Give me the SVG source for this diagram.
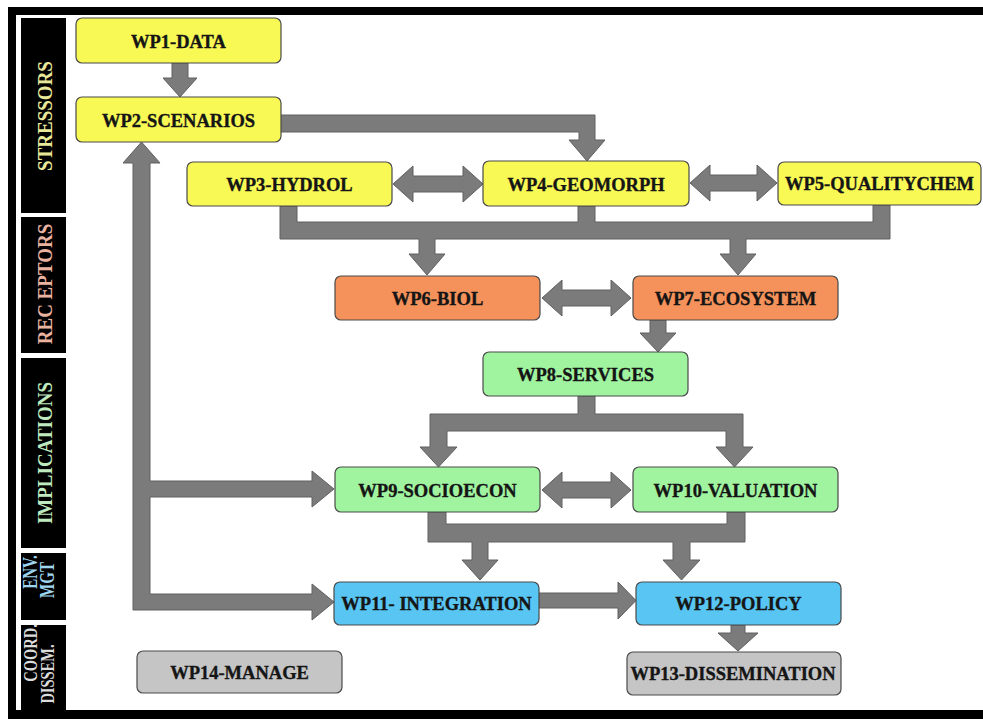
<svg xmlns="http://www.w3.org/2000/svg" width="983" height="719" viewBox="0 0 983 719">
  <style>
    .box { stroke: #4a4a4a; stroke-width: 1.2; }
    .yellow { fill: #f9f955; }
    .orange { fill: #f5915a; }
    .green { fill: #a0f4a0; }
    .blue { fill: #58c5f3; }
    .grey { fill: #c5c5c5; }
    .label { font-family: "Liberation Serif", "Times New Roman", serif; font-weight: bold; font-size: 18.5px; fill: #151515; stroke: #151515; stroke-width: 0.35; text-anchor: middle; }
    .band { fill: #000; }
    .side { font-family: "Liberation Serif", "Times New Roman", serif; font-weight: bold; text-anchor: middle; }
    .arrow { fill: #7b7b7b; stroke: #606060; stroke-width: 1; stroke-linejoin: miter; }
  </style>

  <rect x="0" y="0" width="983" height="719" fill="#ffffff"/>

  <!-- outer frame -->
  <g id="frame">
    <rect x="8" y="7" width="975" height="8" fill="#000"/>
    <rect x="8" y="7" width="8" height="712" fill="#000"/>
    <rect x="8" y="710" width="975" height="9" fill="#000"/>
  </g>

  <!-- phase labels down the left side -->
  <g id="phase-stressors">
    <rect class="band" x="21" y="18" width="45" height="195"/>
    <text class="side" font-size="19" fill="#e8e89a" transform="translate(52,116) rotate(-90) scale(1,1.15)">STRESSORS</text>
  </g>
  <g id="phase-receptors">
    <rect class="band" x="21" y="217" width="45" height="136"/>
    <text class="side" font-size="19" fill="#e9b3a0" transform="translate(52,284) rotate(-90) scale(1,1.15)">REC EPTORS</text>
  </g>
  <g id="phase-implications">
    <rect class="band" x="21" y="358" width="45" height="190"/>
    <text class="side" font-size="19" fill="#bfeabf" transform="translate(52,453) rotate(-90) scale(1,1.15)">IMPLICATIONS</text>
  </g>
  <g id="phase-envmgt">
    <rect class="band" x="21" y="553" width="45" height="67"/>
    <text class="side" font-size="15" fill="#9fd6ef" transform="translate(37,572) rotate(-90) scale(1,1.35)">ENV.</text>
    <text class="side" font-size="15" fill="#9fd6ef" transform="translate(54,580) rotate(-90) scale(1,1.35)">MGT</text>
  </g>
  <g id="phase-coord">
    <rect class="band" x="21" y="625" width="45" height="90"/>
    <text class="side" font-size="14.5" fill="#dcdcdc" transform="translate(37,653) rotate(-90) scale(1,1.35)">COORD.</text>
    <text class="side" font-size="14.5" fill="#dcdcdc" transform="translate(54,674) rotate(-90) scale(1,1.35)">DISSEM.</text>
  </g>

  <!-- connectors: block arrows -->
  <g id="connectors">
    <!-- WP1 to WP2 -->
    <polygon class="arrow" points="172,63 188,63 188,78 197,78 180,97 163,78 172,78"/>
    <!-- WP2 to WP4 -->
    <polygon class="arrow" points="280,115 595,115 595,140 605,140 587,161 569,140 579,140 579,132 280,132"/>
    <!-- WP3 and WP4 -->
    <polygon class="arrow" points="393,184 413,166 413,176 463,176 463,166 483,184 463,202 463,192 413,192 413,202"/>
    <!-- WP4 and WP5 -->
    <polygon class="arrow" points="690,183 710,165 710,175 757,175 757,165 777,183 757,201 757,191 710,191 710,201"/>
    <!-- WP3/WP4/WP5 into WP6 and WP7 -->
    <polygon class="arrow" points="280,206 297,206 297,222 578,222 578,206 595,206 595,222 873,222 873,205 890,205 890,239 746,239 746,254 756,254 738,275 720,254 730,254 730,239 435,239 435,254 445,254 427,275 409,254 419,254 419,239 280,239"/>
    <!-- WP6 and WP7 -->
    <polygon class="arrow" points="542,298 562,280 562,290 611,290 611,280 631,298 611,316 611,306 562,306 562,316"/>
    <!-- WP7 to WP8 -->
    <polygon class="arrow" points="650,320 666,320 666,333 676,333 658,352 640,333 650,333"/>
    <!-- WP8 into WP9 and WP10 -->
    <polygon class="arrow" points="578,396 595,396 595,414 743,414 743,447 753,447 734.5,467 716,447 726,447 726,431 447,431 447,447 457,447 438.5,467 420,447 430,447 430,414 578,414"/>
    <!-- WP9 and WP10 -->
    <polygon class="arrow" points="542,490 562,472 562,482 611,482 611,472 631,490 611,508 611,498 562,498 562,508"/>
    <!-- WP9/WP10 into WP11 and WP12 -->
    <polygon class="arrow" points="428,512 446,512 446,524 727,524 727,512 745,512 745,542 690,542 690,560 700,560 681.5,580 663,560 673,560 673,542 488,542 488,560 498,560 480,580 462,560 472,560 472,542 428,542"/>
    <!-- WP11 to WP12 -->
    <polygon class="arrow" points="539,593 618,593 618,582 636,600.5 618,619 618,608 539,608"/>
    <!-- WP12 to WP13 -->
    <polygon class="arrow" points="731,625 745,625 745,633 758,633 738,651 718,633 731,633"/>
    <!-- feedback loop back to WP2, with branches to WP9 and WP11 -->
    <polygon class="arrow" points="141.5,142 160,163 150,163 150,481 312,481 312,471 334,489 312,507 312,497 150,497 150,594 312,594 312,584 334,602 312,620 312,610 133,610 133,163 123,163"/>
  </g>

  <!-- work packages -->
  <g id="wp1">
    <rect class="box yellow" x="76" y="18" width="205" height="45" rx="6"/>
    <text class="label" x="178.5" y="48">WP1-DATA</text>
  </g>
  <g id="wp2">
    <rect class="box yellow" x="76" y="97" width="205" height="45" rx="6"/>
    <text class="label" x="178.5" y="127">WP2-SCENARIOS</text>
  </g>
  <g id="wp3">
    <rect class="box yellow" x="187" y="162" width="205" height="44" rx="6"/>
    <text class="label" x="289.5" y="191">WP3-HYDROL</text>
  </g>
  <g id="wp4">
    <rect class="box yellow" x="483" y="161" width="206" height="45" rx="6"/>
    <text class="label" x="586" y="191">WP4-GEOMORPH</text>
  </g>
  <g id="wp5">
    <rect class="box yellow" x="778" y="162" width="203" height="43" rx="6"/>
    <text class="label" x="879.5" y="190">WP5-QUALITYCHEM</text>
  </g>
  <g id="wp6">
    <rect class="box orange" x="335" y="276" width="205" height="44" rx="6"/>
    <text class="label" x="437.5" y="305">WP6-BIOL</text>
  </g>
  <g id="wp7">
    <rect class="box orange" x="633" y="276" width="205" height="44" rx="6"/>
    <text class="label" x="735.5" y="305">WP7-ECOSYSTEM</text>
  </g>
  <g id="wp8">
    <rect class="box green" x="483" y="352" width="205" height="44" rx="6"/>
    <text class="label" x="585.5" y="381">WP8-SERVICES</text>
  </g>
  <g id="wp9">
    <rect class="box green" x="335" y="467" width="205" height="45" rx="6"/>
    <text class="label" x="437.5" y="497">WP9-SOCIOECON</text>
  </g>
  <g id="wp10">
    <rect class="box green" x="633" y="467" width="205" height="45" rx="6"/>
    <text class="label" x="735.5" y="497">WP10-VALUATION</text>
  </g>
  <g id="wp11">
    <rect class="box blue" x="334" y="582" width="205" height="43" rx="6"/>
    <text class="label" x="436.5" y="610">WP11- INTEGRATION</text>
  </g>
  <g id="wp12">
    <rect class="box blue" x="636" y="582" width="205" height="43" rx="6"/>
    <text class="label" x="738.5" y="610">WP12-POLICY</text>
  </g>
  <g id="wp13">
    <rect class="box grey" x="627" y="652" width="214" height="43" rx="6"/>
    <text class="label" x="733" y="680">WP13-DISSEMINATION</text>
  </g>
  <g id="wp14">
    <rect class="box grey" x="137" y="651" width="205" height="42" rx="6"/>
    <text class="label" x="239.5" y="679">WP14-MANAGE</text>
  </g>
</svg>
